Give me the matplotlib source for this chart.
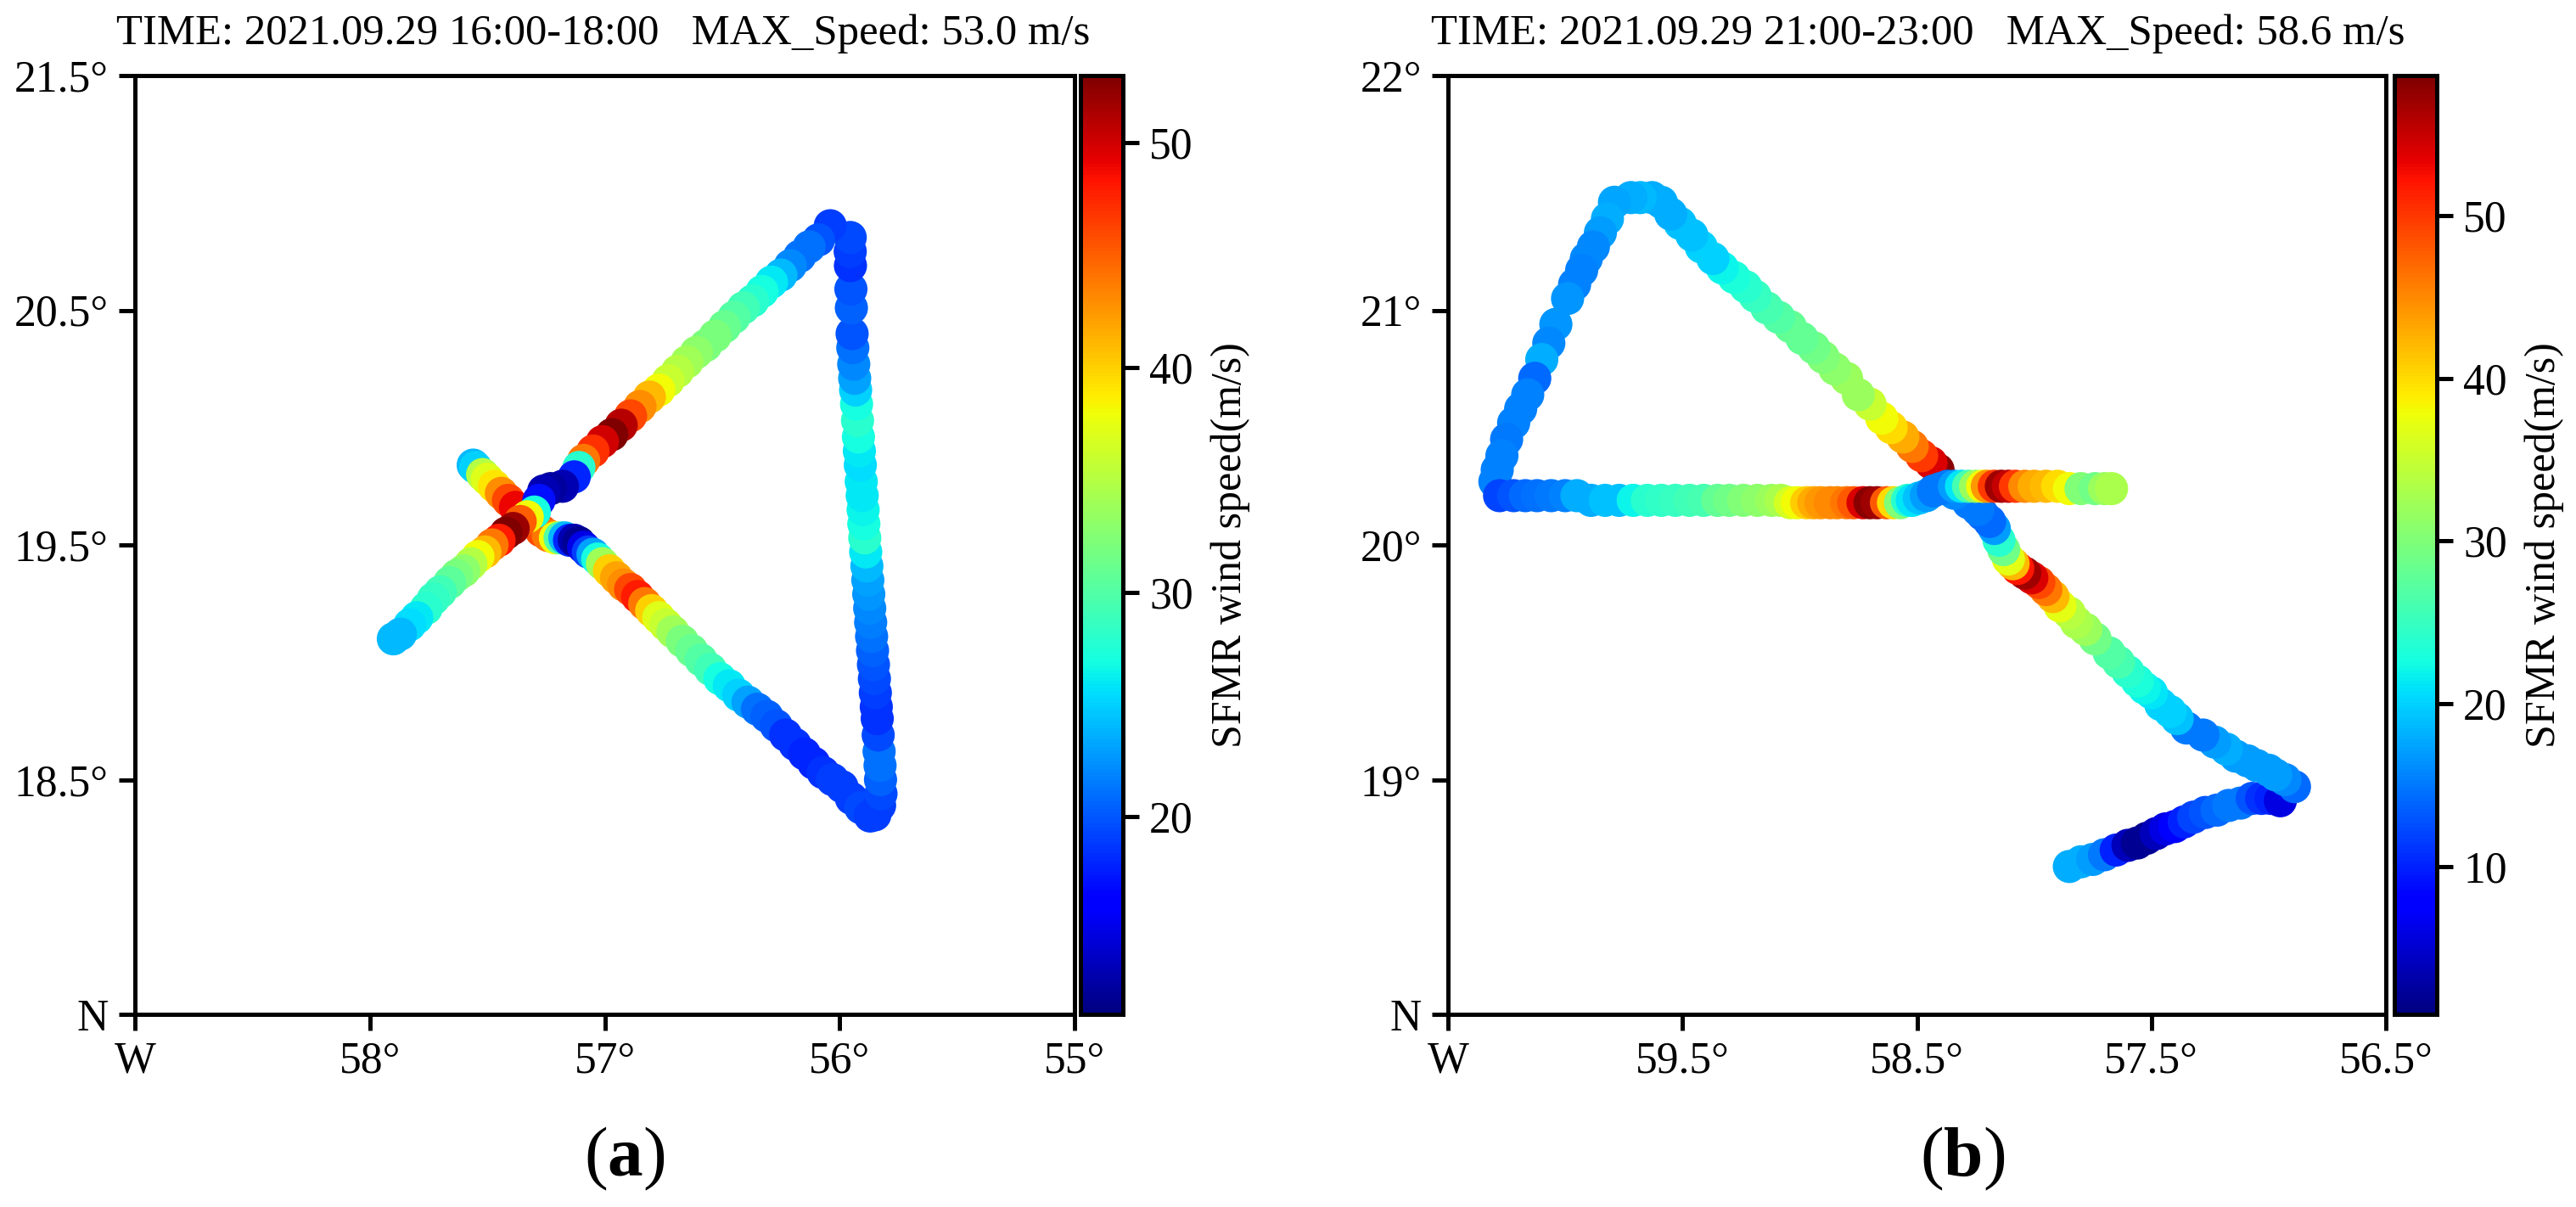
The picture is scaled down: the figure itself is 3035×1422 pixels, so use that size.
#!/usr/bin/env python3
import matplotlib
matplotlib.use('Agg')
import matplotlib.pyplot as plt

plt.rcParams['font.family'] = ['Liberation Serif', 'DejaVu Serif']
plt.rcParams['mathtext.fontset'] = 'custom'
plt.rcParams['mathtext.rm'] = 'Liberation Serif'
plt.rcParams['mathtext.bf'] = 'Liberation Serif:bold'

# panel (a): flight track in drawing order
lon_a = [57.56, 57.55, 57.52, 57.50, 57.47, 57.44, 57.41, 57.38, 57.35, 57.31, 57.27, 57.24, 57.21, 57.19, 57.17, 57.15, 57.13, 57.11,
         57.09, 57.07, 57.05, 57.03, 57.01, 56.98, 56.95, 56.92, 56.89, 56.86, 56.83, 56.80, 56.77, 56.74, 56.71, 56.67, 56.63, 56.59,
         56.55, 56.51, 56.47, 56.43, 56.39, 56.35, 56.31, 56.27, 56.23, 56.19, 56.15, 56.11, 56.07, 56.03, 55.99, 55.95, 55.91, 55.87,
         55.85, 55.83,
         55.824, 55.826, 55.828, 55.832, 55.836, 55.84, 55.844, 55.848, 55.852, 55.856, 55.86, 55.864, 55.868, 55.872, 55.876, 55.88, 55.884, 55.889,
         55.893, 55.897, 55.90, 55.904, 55.908, 55.912, 55.916, 55.92, 55.924, 55.928, 55.932, 55.936, 55.94, 55.944, 55.947, 55.95, 55.952, 55.954, 55.955, 55.955,
         56.04, 56.09, 56.13, 56.17, 56.21, 56.25, 56.29, 56.33, 56.37, 56.41, 56.45, 56.49, 56.53, 56.57, 56.61, 56.65, 56.69, 56.73,
         56.77, 56.81, 56.85, 56.89, 56.93, 56.97, 57.01, 57.05, 57.09, 57.11, 57.13, 57.18, 57.23, 57.26, 57.28, 57.30, 57.33, 57.36,
         57.39, 57.42, 57.45, 57.48, 57.51, 57.54, 57.57, 57.60, 57.63, 57.66, 57.70, 57.73, 57.76, 57.80, 57.83, 57.87, 57.90]
lat_a = [19.84, 19.83, 19.80, 19.78, 19.75, 19.72, 19.69, 19.66, 19.63, 19.60, 19.56, 19.54, 19.53, 19.53, 19.53, 19.52, 19.52, 19.51,
         19.49, 19.47, 19.46, 19.44, 19.42, 19.39, 19.36, 19.33, 19.31, 19.28, 19.25, 19.22, 19.19, 19.16, 19.13, 19.09, 19.05, 19.01,
         18.97, 18.93, 18.90, 18.86, 18.83, 18.80, 18.77, 18.73, 18.69, 18.65, 18.61, 18.57, 18.53, 18.50, 18.47, 18.42, 18.38, 18.345,
         18.35, 18.39,
         18.44, 18.50, 18.56, 18.62, 18.69, 18.76, 18.81, 18.87, 18.93, 18.99, 19.05, 19.11, 19.17, 19.23, 19.29, 19.35, 19.41, 19.47,
         19.53, 19.59, 19.65, 19.71, 19.77, 19.84, 19.90, 19.96, 20.03, 20.10, 20.16, 20.21, 20.27, 20.34, 20.40, 20.51, 20.59, 20.69, 20.75, 20.81,
         20.86, 20.80, 20.77, 20.73, 20.69, 20.65, 20.62, 20.58, 20.54, 20.51, 20.47, 20.43, 20.39, 20.35, 20.32, 20.28, 20.24, 20.20,
         20.16, 20.13, 20.09, 20.05, 20.01, 19.97, 19.94, 19.90, 19.86, 19.83, 19.79, 19.75, 19.74, 19.73, 19.69, 19.64, 19.62, 19.60,
         19.57, 19.55, 19.52, 19.50, 19.47, 19.45, 19.42, 19.39, 19.37, 19.34, 19.30, 19.27, 19.23, 19.19, 19.16, 19.12, 19.10]
speed_a = [24, 25, 35, 37, 39, 43, 46, 49, 49, 48, 46, 44, 38, 30, 24, 18, 13, 12,
           15, 19, 23, 27, 34, 40, 42, 43, 46, 48, 44, 40, 37, 36, 34, 32, 31, 30,
           29, 27, 26, 25, 23, 21, 20.5, 20, 18.5, 18.5, 18, 18, 18.5, 19, 19, 19, 19.5, 19,
           19, 19,
           19.5, 20.5, 21, 21, 19.5, 18.5, 18.5, 19, 19.5, 20, 20.5, 21, 21.5, 22, 22.5, 23, 24, 26,
           28, 27, 26.5, 26, 26, 25.5, 26, 27, 28, 27, 25, 23, 22, 21, 20, 20.5, 20, 18.5, 19, 19.5,
           19, 20, 21, 21, 22, 24, 26, 27, 28, 29, 30, 31, 32, 32, 33, 34, 35, 36,
           38, 41, 43, 46, 51, 53, 50, 47, 44, 28, 18, 13, 12.5, 13, 17, 27, 38, 45,
           52, 53, 48, 44, 41, 38, 35, 33, 32, 30.5, 29, 28.5, 28, 26, 25.5, 24, 24]

# panel (b): flight track in drawing order
lon_b = [57.85, 57.80, 57.75, 57.70, 57.65, 57.60, 57.56, 57.52, 57.48, 57.44, 57.40, 57.36, 57.32, 57.27, 57.22, 57.17, 57.12, 57.07,
         57.03, 56.99, 56.95, 56.89,
         56.93, 56.97, 57.00, 57.05, 57.09, 57.14, 57.18, 57.23, 57.28, 57.35, 57.39, 57.42, 57.46, 57.50, 57.53, 57.56, 57.60, 57.64,
         57.68, 57.74, 57.78, 57.82, 57.85, 57.89, 57.92, 57.95, 57.98, 58.01, 58.04, 58.07, 58.09, 58.11, 58.13, 58.15, 58.17, 58.19,
         58.22, 58.24, 58.28, 58.34,
         58.41, 58.44, 58.48, 58.52, 58.56, 58.61, 58.65, 58.70, 58.75, 58.80, 58.85, 58.90, 58.94, 58.99, 59.04, 59.09, 59.14, 59.19,
         59.23, 59.28, 59.33, 59.37, 59.42, 59.46, 59.51, 59.55, 59.59, 59.63, 59.68, 59.72, 59.79,
         59.82, 59.85, 59.88, 59.91, 59.93, 59.96, 59.99, 60.04, 60.07, 60.10, 60.13, 60.16, 60.19, 60.22, 60.25, 60.27, 60.29, 60.30,
         60.28, 60.22, 60.17, 60.12, 60.06, 60.00, 59.95, 59.89, 59.83, 59.77, 59.71, 59.65, 59.59, 59.53, 59.47, 59.41, 59.35, 59.30,
         59.24, 59.18, 59.12, 59.08, 59.04, 59.01, 58.97, 58.94, 58.91, 58.87, 58.84, 58.80, 58.77, 58.73, 58.70, 58.67, 58.63, 58.60,
         58.57, 58.54, 58.52, 58.49, 58.46, 58.43, 58.40, 58.37, 58.34, 58.31, 58.28, 58.25, 58.22, 58.20, 58.17, 58.14, 58.11, 58.08,
         58.04, 58.00, 57.95, 57.90, 57.85, 57.80, 57.74, 57.70, 57.67]
lat_b = [18.63, 18.65, 18.66, 18.68, 18.70, 18.72, 18.73, 18.75, 18.77, 18.79, 18.80, 18.82, 18.84, 18.86, 18.87, 18.89, 18.90, 18.92,
         18.92, 18.92, 18.91, 18.97,
         19.00, 19.02, 19.04, 19.06, 19.08, 19.10, 19.13, 19.16, 19.19, 19.22, 19.26, 19.29, 19.32, 19.37, 19.39, 19.42, 19.46, 19.50,
         19.54, 19.60, 19.64, 19.67, 19.71, 19.74, 19.78, 19.81, 19.84, 19.86, 19.88, 19.90, 19.92, 19.94, 19.98, 20.02, 20.07, 20.10,
         20.13, 20.15, 20.18, 20.22,
         20.32, 20.35, 20.38, 20.42, 20.46, 20.50, 20.54, 20.60, 20.64, 20.71, 20.75, 20.80, 20.84, 20.88, 20.93, 20.97, 21.01, 21.06,
         21.10, 21.14, 21.18, 21.22, 21.27, 21.32, 21.37, 21.41, 21.46, 21.48, 21.48, 21.48, 21.46,
         21.39, 21.33, 21.27, 21.22, 21.17, 21.11, 21.05, 20.94, 20.86, 20.79, 20.71, 20.64, 20.58, 20.52, 20.45, 20.38, 20.32, 20.27,
         20.21, 20.21, 20.21, 20.21, 20.21, 20.21, 20.21, 20.19, 20.19, 20.19, 20.19, 20.19, 20.19, 20.19, 20.19, 20.19, 20.19, 20.19,
         20.19, 20.19, 20.19, 20.19, 20.18, 20.18, 20.18, 20.18, 20.18, 20.18, 20.18, 20.18, 20.18, 20.18, 20.18, 20.18, 20.18, 20.18,
         20.18, 20.19, 20.19, 20.20, 20.21, 20.23, 20.24, 20.25, 20.25, 20.25, 20.25, 20.25, 20.25, 20.25, 20.25, 20.25, 20.25, 20.25,
         20.25, 20.25, 20.25, 20.25, 20.24, 20.24, 20.24, 20.24, 20.24]
speed_b = [18, 18, 17, 15, 10, 4, 2, 2, 4, 6, 8, 10, 12, 13, 14, 15, 15, 13,
           11, 10, 6, 14,
           16, 17, 17, 17, 17, 17, 18, 17, 15, 15, 19, 20, 20, 21, 22, 23, 24, 26,
           27, 29, 32, 33, 34, 37, 42, 46, 49, 54, 57, 52, 42, 37, 29, 24, 17, 14,
           14, 15, 15, 16,
           58, 54, 50, 46, 43, 40, 38, 35, 32, 32, 31, 30, 29, 28, 28, 27, 26, 25,
           24, 23, 22, 20, 20, 19, 19, 18, 18, 18, 18.5, 18, 17.5,
           18, 17, 16, 16, 15.5, 15.5, 16.5, 16.5, 16, 18, 14, 15.5, 15.5, 15.5, 15, 15.5, 15.5, 15.5,
           12, 13, 14, 14.5, 15, 15.5, 18, 18, 19, 19, 22, 24, 24.5, 25, 25.5, 26, 28, 29,
           30, 31, 32, 33, 36, 38, 41, 43, 44, 45, 45, 46, 48, 54, 58, 57, 48, 40,
           30, 24, 21, 19, 17, 15, 15, 15, 17, 21, 26, 32, 38, 44, 50, 57, 55, 50,
           45, 43, 42, 40, 38, 30, 29, 32, 33]

xticks_a = [59, 58, 57, 56, 55]
xlabels_a = ['W', '58°', '57°', '56°', '55°']
yticks_a = [17.5, 18.5, 19.5, 20.5, 21.5]
ylabels_a = ['N', '18.5°', '19.5°', '20.5°', '21.5°']
cticks_a = [20, 30, 40, 50]

xticks_b = [60.5, 59.5, 58.5, 57.5, 56.5]
xlabels_b = ['W', '59.5°', '58.5°', '57.5°', '56.5°']
yticks_b = [18, 19, 20, 21, 22]
ylabels_b = ['N', '19°', '20°', '21°', '22°']
cticks_b = [10, 20, 30, 40, 50]

W, H = 3036, 1422


def draw_panel(px_left, px_right, cb_left, cb_right, lon, lat, speed, vmin, vmax,
               xticks, xlabels, yticks, ylabels, cticks, title, title_x, letter, letter_x):
    top, bottom = 89, 1195
    ax = fig.add_axes([px_left / W, 1 - bottom / H, (px_right - px_left) / W, (bottom - top) / H])
    cax = fig.add_axes([cb_left / W, 1 - bottom / H, (cb_right - cb_left) / W, (bottom - top) / H])

    sc = ax.scatter(lon, lat, c=speed, s=88, cmap='jet', vmin=vmin, vmax=vmax, linewidths=0)
    ax.set_xlim(xticks[0], xticks[-1])
    ax.set_ylim(yticks[0], yticks[-1])
    ax.set_xticks(xticks, xlabels)
    ax.set_yticks(yticks, ylabels)
    ax.tick_params(length=4.5, width=1.2, labelsize=12.4, pad=3)
    for spine in ax.spines.values():
        spine.set_linewidth(1.2)

    cb = fig.colorbar(sc, cax=cax, ticks=cticks)
    cb.set_label('SFMR wind speed(m/s)', fontsize=12, labelpad=5)
    cb.ax.tick_params(length=4.5, width=1.2, labelsize=12.4, pad=3)
    cb.outline.set_linewidth(1.2)

    fig.text(title_x / W, 1 - 40 / H, title, fontsize=12.2, ha='left', va='center')
    fig.text(letter_x / W, 1 - 1365 / H, letter, fontsize=20, ha='center', va='center')


fig = plt.figure(figsize=(W / 300, H / 300), dpi=300)
draw_panel(159, 1266, 1273, 1323, lon_a, lat_a, speed_a, 11.2, 53.0,
           xticks_a, xlabels_a, yticks_a, ylabels_a, cticks_a,
           'TIME: 2021.09.29 16:00-18:00   MAX_Speed: 53.0 m/s', 137, r'($\mathbf{a}$)', 736)
draw_panel(1706, 2811, 2821, 2871, lon_b, lat_b, speed_b, 0.9, 58.6,
           xticks_b, xlabels_b, yticks_b, ylabels_b, cticks_b,
           'TIME: 2021.09.29 21:00-23:00   MAX_Speed: 58.6 m/s', 1686, r'($\mathbf{b}$)', 2312)
fig.savefig('out.png', dpi=300)
